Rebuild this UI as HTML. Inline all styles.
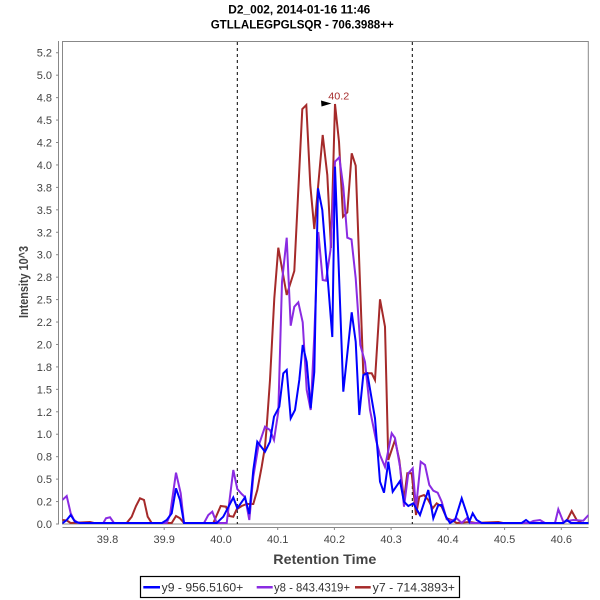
<!DOCTYPE html>
<html>
<head>
<meta charset="utf-8">
<style>
  html,body{margin:0;padding:0;background:#fff;}
  svg{display:block;}
  text{font-family:"Liberation Sans", sans-serif;}
</style>
</head>
<body>
<svg width="600" height="600" viewBox="0 0 600 600" xmlns="http://www.w3.org/2000/svg">
  <rect x="0" y="0" width="600" height="600" fill="#fff"/>

  <!-- Title -->
  <text x="228.3" y="13.5" font-size="12" font-weight="bold" fill="#000" textLength="142" lengthAdjust="spacingAndGlyphs">D2_002, 2014-01-16 11:46</text>
  <text x="210.7" y="28.3" font-size="12" font-weight="bold" fill="#000" textLength="183" lengthAdjust="spacingAndGlyphs">GTLLALEGPGLSQR - 706.3988++</text>

  <!-- Plot area border -->
  <rect x="62.5" y="41.5" width="525.8" height="482.5" fill="#fff" stroke="#888" stroke-width="1"/>

  <!-- Y axis line -->
  <line x1="58.5" y1="41" x2="58.5" y2="524.5" stroke="#888" stroke-width="1"/>
  <!-- X axis line -->
  <line x1="62.5" y1="527.5" x2="588.5" y2="527.5" stroke="#888" stroke-width="1"/>

  <!-- Y ticks and labels -->
  <g stroke="#888" stroke-width="1">
    <line x1="56" y1="524" x2="58.5" y2="524"/>
    <line x1="56" y1="501.56" x2="58.5" y2="501.56"/>
    <line x1="56" y1="479.12" x2="58.5" y2="479.12"/>
    <line x1="56" y1="456.68" x2="58.5" y2="456.68"/>
    <line x1="56" y1="434.23" x2="58.5" y2="434.23"/>
    <line x1="56" y1="411.79" x2="58.5" y2="411.79"/>
    <line x1="56" y1="389.35" x2="58.5" y2="389.35"/>
    <line x1="56" y1="366.91" x2="58.5" y2="366.91"/>
    <line x1="56" y1="344.47" x2="58.5" y2="344.47"/>
    <line x1="56" y1="322.03" x2="58.5" y2="322.03"/>
    <line x1="56" y1="299.59" x2="58.5" y2="299.59"/>
    <line x1="56" y1="277.15" x2="58.5" y2="277.15"/>
    <line x1="56" y1="254.71" x2="58.5" y2="254.71"/>
    <line x1="56" y1="232.27" x2="58.5" y2="232.27"/>
    <line x1="56" y1="209.83" x2="58.5" y2="209.83"/>
    <line x1="56" y1="187.39" x2="58.5" y2="187.39"/>
    <line x1="56" y1="164.94" x2="58.5" y2="164.94"/>
    <line x1="56" y1="142.50" x2="58.5" y2="142.50"/>
    <line x1="56" y1="120.06" x2="58.5" y2="120.06"/>
    <line x1="56" y1="97.62" x2="58.5" y2="97.62"/>
    <line x1="56" y1="75.18" x2="58.5" y2="75.18"/>
    <line x1="56" y1="52.74" x2="58.5" y2="52.74"/>
  </g>
  <g font-size="11" fill="#444" text-anchor="end">
    <text x="52" y="528">0.0</text>
    <text x="52" y="505.56">0.2</text>
    <text x="52" y="483.12">0.5</text>
    <text x="52" y="460.68">0.8</text>
    <text x="52" y="438.23">1.0</text>
    <text x="52" y="415.79">1.2</text>
    <text x="52" y="393.35">1.5</text>
    <text x="52" y="370.91">1.8</text>
    <text x="52" y="348.47">2.0</text>
    <text x="52" y="326.03">2.2</text>
    <text x="52" y="303.59">2.5</text>
    <text x="52" y="281.15">2.8</text>
    <text x="52" y="258.71">3.0</text>
    <text x="52" y="236.27">3.2</text>
    <text x="52" y="213.83">3.5</text>
    <text x="52" y="191.39">3.8</text>
    <text x="52" y="168.94">4.0</text>
    <text x="52" y="146.50">4.2</text>
    <text x="52" y="124.06">4.5</text>
    <text x="52" y="101.62">4.8</text>
    <text x="52" y="79.18">5.0</text>
    <text x="52" y="56.74">5.2</text>
  </g>

  <!-- X ticks and labels -->
  <g stroke="#888" stroke-width="1">
    <line x1="107.5" y1="527.5" x2="107.5" y2="530"/>
    <line x1="164.2" y1="527.5" x2="164.2" y2="530"/>
    <line x1="221.0" y1="527.5" x2="221.0" y2="530"/>
    <line x1="277.7" y1="527.5" x2="277.7" y2="530"/>
    <line x1="334.4" y1="527.5" x2="334.4" y2="530"/>
    <line x1="391.1" y1="527.5" x2="391.1" y2="530"/>
    <line x1="447.9" y1="527.5" x2="447.9" y2="530"/>
    <line x1="504.6" y1="527.5" x2="504.6" y2="530"/>
    <line x1="561.3" y1="527.5" x2="561.3" y2="530"/>
  </g>
  <g font-size="11" fill="#444" text-anchor="middle">
    <text x="107.5" y="543">39.8</text>
    <text x="164.2" y="543">39.9</text>
    <text x="221.0" y="543">40.0</text>
    <text x="277.7" y="543">40.1</text>
    <text x="334.4" y="543">40.2</text>
    <text x="391.1" y="543">40.3</text>
    <text x="447.9" y="543">40.4</text>
    <text x="504.6" y="543">40.5</text>
    <text x="561.3" y="543">40.6</text>
  </g>

  <!-- Axis labels -->
  <text x="273.3" y="564" font-size="14" font-weight="bold" fill="#444" textLength="103" lengthAdjust="spacingAndGlyphs">Retention Time</text>
  <text transform="translate(28,282) rotate(-90)" x="0" y="0" font-size="12.5" font-weight="bold" fill="#444" text-anchor="middle" textLength="72" lengthAdjust="spacingAndGlyphs">Intensity 10^3</text>

  <!-- Dashed vertical markers -->
  <line x1="237.3" y1="42" x2="237.3" y2="524" stroke="#000" stroke-width="1" stroke-dasharray="3,3"/>
  <line x1="412.3" y1="42" x2="412.3" y2="524" stroke="#000" stroke-width="1" stroke-dasharray="3,3"/>

  <defs>
    <clipPath id="pa"><rect x="62.5" y="41.5" width="526" height="483"/></clipPath>
  </defs>

  <g clip-path="url(#pa)" fill="none" stroke-width="2" stroke-linejoin="miter" stroke-miterlimit="4">
    <!-- y7 red/brown -->
    <polyline stroke="#A52A2A" points="
62.3,520 66.7,520.5 70.7,523 90,522 94,523 126.7,523 131.7,516.7 136,506 140,498.3 144,500 147.7,516.7 151.7,523
171.7,523 176,516 180,518.3 184,523 213.3,523 220.7,506 226,506.7 229.3,516 233.3,516.7 236.7,509.3 241.7,506
246.7,504 253.3,504 257.3,490 261.7,466.7 265,446.7 266.7,426.7 270,380 274.3,298.3 278.3,247.7 286.7,295
294.3,271 302.3,109 306.3,105 310.3,185 314.3,229 322.7,135 327.3,175 331,248 335,104 339,141.7 343,216.7
347.3,212.3 351.7,153.3 355.7,165.7 363.3,373.3 371.7,373.3 375,380 380,299.3 385,326.7 388.3,460 395,440
399.3,460 404,500 407.3,473.3 411.7,473.3 416,515 419.3,496.7 424,495 428.3,500 432.7,508.3 436.7,503.3
441.7,506.7 446.7,518.3 451.7,520 456.7,523 470,522 476,523 486,522.5 498.3,522 503,523 562,523 566.7,521 571.7,511
576.7,520 581.7,523 588.5,523"/>
    <!-- y8 purple -->
    <polyline stroke="#8A2BE2" points="
62.3,500 66.7,496 70.7,513.3 74,520 78.3,523 103.3,523 106,518.3 110,517.3 114,523 166.7,523 170,515 176,472.7
180.7,493.3 184,523 204,523 208.3,515 212.3,511.7 216.7,523 226.7,523 233.3,470 237.3,489 241.7,494 245,497
249.3,520 253.3,476.7 258.3,446.7 265,426.7 270,430 274,440 278.3,411.7 282,282 286.7,237.7 290.7,325.7
294.3,306.7 298.3,302.3 302.7,322.3 306.7,390 310.7,410 314.3,335 318.3,232 322.7,280 326,280.7 330.5,250
335,161.7 339.3,157.3 343.3,186.7 347.3,237.7 351.5,239.5 355.7,278.3 360.3,345 365,362 370,410 376,440 380,455
385,467 391.7,433.3 395,438 400,466.7 404,506.7 408.3,473.3 412.7,468.3 416,508 420.7,461.7 425,465 429.3,485
433.3,490.7 437.7,492.7 441.7,501.7 446.7,519.3 451.7,520.7 456.7,518.3 461.7,523 466.7,518.3 471,523
529,523 533.3,521 540,520 545,523 555,523 558.3,509.3 563.3,521.7 573.3,520 583.3,520.7 588.5,515"/>
    <!-- y9 blue -->
    <polyline stroke="#0000FF" points="
62.3,523.3 66.7,520 70.7,515 75,521.7 80,523 162,523 166.7,520 171.7,513.3 176,488.3 180,500 184,523 216.7,523
223.3,516.7 233.3,497.5 237.3,508.3 245,497.3 249.3,514 253.3,470 257.3,441.7 265,451.7 270,441.7 274,416.7
279.3,406.7 283.3,373.3 286.7,370 290.7,418.3 295,410 299.3,380 302.7,345 306.7,362 310.7,408.3 314.3,372
318,188.3 322.3,210 332.3,337 335,166.7 343.3,391.7 351.7,312.3 355.7,341.7 359.3,415 363.3,375 367.3,373.3
375,418.3 380,481.7 384,492.7 388.3,461.7 392.7,491.7 400,481 404,501.7 408.3,506 413.3,503.3 420,515
428.3,490 433.3,518.3 438.3,505 441.7,505 446,516.7 450,523 455,520 461.7,498.3 466.7,513.3 469.3,521.7
472.7,513.3 476.7,520 481.7,523 521.7,523 526,520 530,523 563.3,523 566.7,520 571,523 588.5,523"/>
  </g>

  <!-- Peak annotation -->
  <polygon points="321,100.5 331.5,103.5 321.5,106.5" fill="#000"/>
  <text x="328.3" y="99.5" font-size="10.5" fill="#A52A2A" textLength="21" lengthAdjust="spacingAndGlyphs">40.2</text>

  <!-- Legend -->
  <rect x="140.5" y="576.5" width="319" height="21" fill="#fff" stroke="#000" stroke-width="1.2"/>
  <line x1="143.3" y1="587.3" x2="160" y2="587.3" stroke="#0000FF" stroke-width="2.5"/>
  <text x="161.7" y="591.5" font-size="12" fill="#333" textLength="81.6" lengthAdjust="spacingAndGlyphs">y9 - 956.5160+</text>
  <line x1="256.7" y1="587.3" x2="272.7" y2="587.3" stroke="#8A2BE2" stroke-width="2.5"/>
  <text x="274" y="591.5" font-size="12" fill="#333" textLength="76" lengthAdjust="spacingAndGlyphs">y8 - 843.4319+</text>
  <line x1="355" y1="587.3" x2="370.7" y2="587.3" stroke="#A52A2A" stroke-width="2.5"/>
  <text x="372.7" y="591.5" font-size="12" fill="#333" textLength="82.3" lengthAdjust="spacingAndGlyphs">y7 - 714.3893+</text>
</svg>
</body>
</html>
